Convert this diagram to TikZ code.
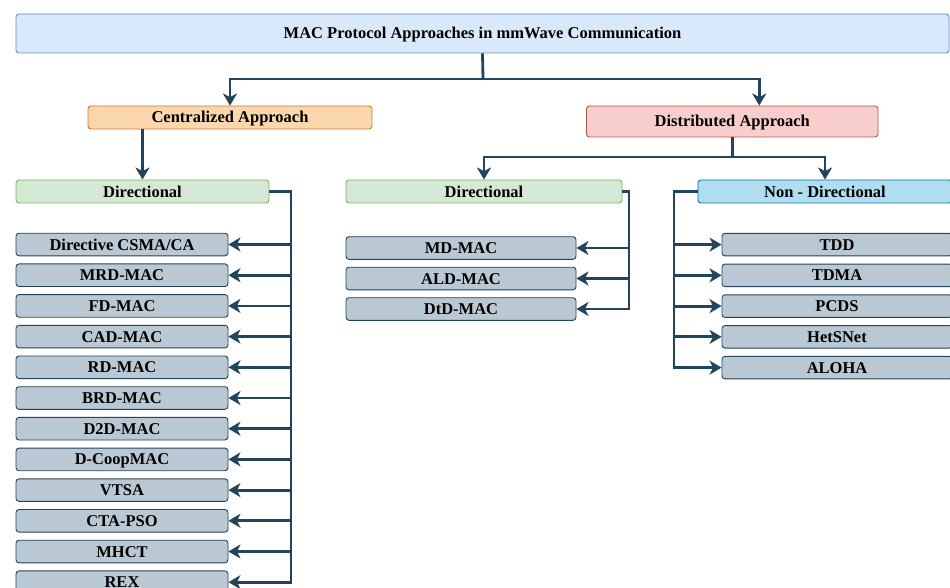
\documentclass[tikz,border=0pt]{standalone}
\usepackage{fontspec}
\setmainfont{Liberation Serif}
\usetikzlibrary{arrows.meta,calc}
\definecolor{titleF}{HTML}{DAE8FC}\definecolor{titleD}{HTML}{6C8EBF}
\definecolor{centF}{HTML}{FAD7AC}\definecolor{centD}{HTML}{C77A2C}
\definecolor{distF}{HTML}{F8CECC}\definecolor{distD}{HTML}{B85450}
\definecolor{dirF}{HTML}{D5E8D4}\definecolor{dirD}{HTML}{82B366}
\definecolor{ndF}{HTML}{B1DDF0}\definecolor{ndD}{HTML}{10739E}
\definecolor{itF}{HTML}{BAC8D3}\definecolor{itD}{HTML}{23445D}
\definecolor{conn}{HTML}{23445D}
\tikzset{
  box/.style={draw, line width=0.9pt, rounded corners=3pt, inner sep=0pt, minimum height=23pt,
    text height=11pt, text depth=0pt,
    font=\fontsize{16.5}{18}\selectfont\bfseries, text=black},
  titlebox/.style={box, fill=titleF, draw=titleD, minimum width=933pt, minimum height=39pt},
  centbox/.style={box, fill=centF, draw=centD, minimum width=284pt},
  distbox/.style={box, fill=distF, draw=distD, minimum width=291.5pt, minimum height=31pt},
  dirbox/.style={box, fill=dirF, draw=dirD},
  ndbox/.style={box, fill=ndF, draw=ndD, minimum width=254pt},
  item/.style={box, fill=itF, draw=itD, minimum height=22.6pt},
  conline/.style={draw=conn, line width=2.8pt},
  arr/.style={conline, -{Stealth[length=12pt,width=14pt,inset=3.5pt]}},
}
\begin{document}
\begin{tikzpicture}[x=1pt,y=-1pt]
\useasboundingbox (0,0) rectangle (950,588);
\node[titlebox] (title) at (482.5,33.5) {MAC Protocol Approaches in mmWave Communication};
\node[centbox] (cent) at (230,117.5) {Centralized Approach};
\node[distbox] (dist) at (732.25,121.5) {Distributed Approach};
\node[dirbox, minimum width=253pt] (dirL) at (142.5,191.5) {Directional};
\node[dirbox, minimum width=276pt] (dirM) at (484,191.5) {Directional};
\node[ndbox] (nd) at (825,191.5) {Non - Directional};
% left list
\foreach \t [count=\i] in {Directive CSMA/CA,MRD-MAC,FD-MAC,CAD-MAC,RD-MAC,BRD-MAC,D2D-MAC,D-CoopMAC,VTSA,CTA-PSO,MHCT,REX}{
  \node[item, minimum width=212pt] (L\i) at (122,{244.5+(\i-1)*30.7}) {\t};
}
% middle list
\foreach \t [count=\i] in {MD-MAC,ALD-MAC,DtD-MAC}{
  \node[item, minimum width=230pt] (M\i) at (461,{248+(\i-1)*30.5}) {\t};
}
% right list
\foreach \t [count=\i] in {TDD,TDMA,PCDS,HetSNet,ALOHA}{
  \node[item, minimum width=230pt] (R\i) at (837,{244.6+(\i-1)*30.75}) {\t};
}
% top connectors
\coordinate (j1) at (483,79);
\draw[conline] (title.south) -- (j1);
\draw[arr] (j1) -| (cent.north);
\draw[arr] (j1) -| ([xshift=27pt]dist.north);
\draw[arr] (cent.south -| dirL.north) -- (dirL.north);
\coordinate (j2) at (732.25,157);
\draw[conline] (dist.south) -- (j2);
\draw[arr] (j2) -| (dirM.north);
\draw[arr] (j2) -| (nd.north);
% left bus
\coordinate (bL) at (291,0);
\draw[arr] (dirL.east) -| (bL |- L12.east) -- (L12.east);
\foreach \i in {1,...,11}{\draw[arr] (bL |- L\i.east) -- (L\i.east);}
% middle bus
\coordinate (bM) at (629,0);
\draw[arr] (dirM.east) -| (bM |- M3.east) -- (M3.east);
\foreach \i in {1,2}{\draw[arr] (bM |- M\i.east) -- (M\i.east);}
% right bus
\coordinate (bR) at (674,0);
\draw[arr] (nd.west) -| (bR |- R5.west) -- (R5.west);
\foreach \i in {1,...,4}{\draw[arr] (bR |- R\i.west) -- (R\i.west);}
\end{tikzpicture}
\end{document}
